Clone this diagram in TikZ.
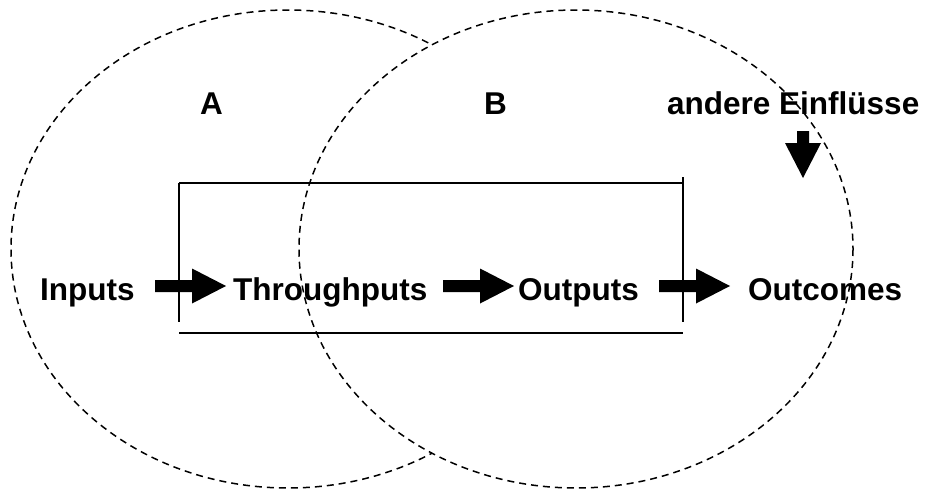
\documentclass[tikz,border=0pt]{standalone}
\usepackage{fontspec}
\setmainfont{Liberation Sans}
\begin{document}
\begin{tikzpicture}[x=1pt,y=-1pt,
  lbl/.style={font=\bfseries\fontsize{31.5}{36}\selectfont, inner sep=0pt, anchor=base west},
  zone/.style={draw, dashed, dash pattern=on 7pt off 5pt, line width=1.5pt},
  frame/.style={line width=1.8pt},
  harrow/.pic={\fill (0,-6) -- (37,-6) -- (37,-17.5) -- (71,0) -- (37,17.5) -- (37,6) -- (0,6) -- cycle;},
  varrow/.pic={\fill (-6,0) -- (6,0) -- (6,12) -- (18,12) -- (0,47) -- (-18,12) -- (-6,12) -- cycle;}]
\useasboundingbox (0,0) rectangle (929,490);
% left zone, partly hidden by the right one
\draw[zone] (288,249) ellipse [x radius=277, y radius=239];
\fill[white] (576,249) ellipse [x radius=277, y radius=239];
% labels
\node[lbl] (inputs) at (40,300) {Inputs};
\node[lbl] (through) at (233,300) {Throughputs};
\node[lbl] (outputs) at (518,300) {Outputs};
\node[lbl] (outcomes) at (748,300) {Outcomes};
\node[lbl] (A) at (200,114) {A};
\node[lbl] (B) at (484,114) {B};
\node[lbl] (other) at (667,114) {andere Einflüsse};
% frame
\coordinate (tl) at (179,183);
\coordinate (tr) at (683,183);
\coordinate (trx) at (683,177);
\coordinate (lb) at (179,322);
\coordinate (rb) at (683,322);
\coordinate (bl) at (179,333);
\coordinate (br) at (683,333);
\draw[frame] (tl) -- (tr);
\draw[line width=1.5pt] (tl) -- (lb);
\draw[line width=1.5pt] (trx) -- (rb);
\draw[frame] (bl) -- (br);
% block arrows
\pic at (155,286) {harrow};
\pic at (443,286) {harrow};
\pic at (659,286) {harrow};
\pic at (803,131) {varrow};
% right zone outline
\draw[zone] (576,249) ellipse [x radius=277, y radius=239];
\end{tikzpicture}
\end{document}
